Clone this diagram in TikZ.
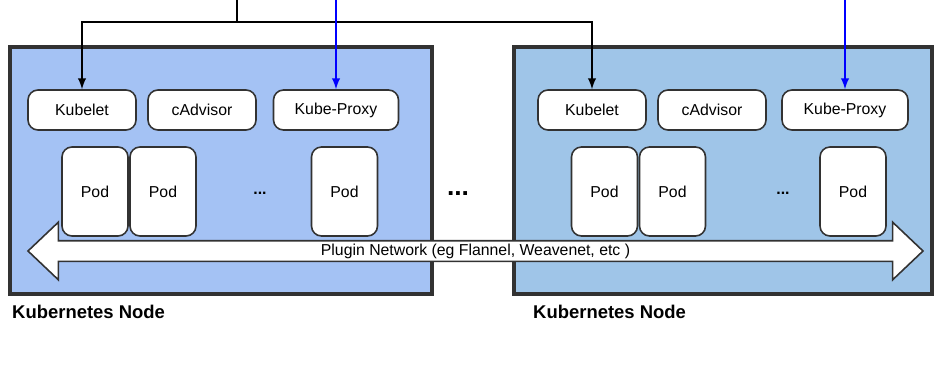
\documentclass[tikz,border=0pt]{standalone}
\usepackage{fontspec}
\setmainfont{Liberation Sans}
\usepackage{tikz}
\usetikzlibrary{shapes,shapes.arrows,positioning}
\usepackage{xcolor}
\definecolor{nodeblueA}{RGB}{164,194,244}
\definecolor{nodeblueB}{RGB}{159,197,232}
\definecolor{edgegray}{RGB}{50,50,50}

\begin{document}
\begin{tikzpicture}[scale=1.0]
    %styles
    \tikzstyle{knode}=[rectangle,draw=edgegray,line width=2.2pt]
    \tikzstyle{agent}=[rectangle,rounded corners=0.2cm,draw=edgegray,line width=0.9pt,fill=white,minimum height=0.8cm,font=\fontsize{9}{10}\selectfont]
    \tikzstyle{pod}=[rectangle,rounded corners=0.2cm,draw=edgegray,line width=0.9pt,fill=white,minimum width=1.32cm,minimum height=1.78cm,font=\fontsize{9}{10}\selectfont]
    \tikzstyle{knlabel}=[anchor=west,font=\fontsize{10.5}{12}\selectfont\bfseries]
    \tikzstyle{ctrl}=[->,>=latex,line width=1.1pt]
    \tikzstyle{proxy}=[->,>=latex,line width=1.1pt,blue]
    \useasboundingbox (0,0) rectangle (18.7,7.44);
    %node boxes
    \node[knode,fill=nodeblueA,minimum width=8.44cm,minimum height=4.94cm] (kn1) at (4.42,4.03) {};
    \node[knode,fill=nodeblueB,minimum width=8.36cm,minimum height=4.94cm] (kn2) at (14.46,4.03) {};
    %nodes
    \node[agent,minimum width=2.16cm] (kl1) at (1.64,5.24) {Kubelet};
    \node[agent,minimum width=2.16cm] (ca1) at (4.04,5.24) {cAdvisor};
    \node[agent,minimum width=2.5cm] (kp1) at (6.72,5.24) {Kube-Proxy};
    \node[agent,minimum width=2.16cm] (kl2) at (11.84,5.24) {Kubelet};
    \node[agent,minimum width=2.16cm] (ca2) at (14.24,5.24) {cAdvisor};
    \node[agent,minimum width=2.52cm] (kp2) at (16.9,5.24) {Kube-Proxy};
    \node[pod] (p11) at (1.9,3.61) {Pod};
    \node[pod] (p12) at (3.26,3.61) {Pod};
    \node[pod] (p13) at (6.89,3.61) {Pod};
    \node[pod] (p21) at (12.09,3.61) {Pod};
    \node[pod] (p22) at (13.45,3.61) {Pod};
    \node[pod] (p23) at (17.06,3.61) {Pod};
    \node[font=\fontsize{9}{10}\selectfont\bfseries] (more1) at (5.2,3.58) {...};
    \node[font=\fontsize{9}{10}\selectfont\bfseries] (more2) at (15.66,3.58) {...};
    \node[font=\fontsize{15}{16}\selectfont\bfseries] (morenodes) at (9.16,3.56) {...};
    \node[double arrow,draw=edgegray,line width=0.9pt,fill=white,minimum height=17.9cm,
          double arrow head extend=0.37cm,double arrow tip angle=87,inner ysep=0.03cm,
          text height=0.24cm,text depth=0.08cm,font=\fontsize{9}{10}\selectfont] (net) at (9.51,2.42)
          {Plugin Network (eg Flannel, Weavenet, etc )};
    \node[knlabel] (lab1) at (0.12,1.2) {Kubernetes Node};
    \node[knlabel] (lab2) at (10.54,1.2) {Kubernetes Node};
    \coordinate (master) at (4.74,7.44);
    \coordinate (split) at (4.74,7.0);
    \coordinate (svc1) at (6.72,7.44);
    \coordinate (svc2) at (16.9,7.44);

    %arrows
    \draw[line width=1.1pt] (master)--(split);
    \draw[ctrl] (split) -| (kl1.north);
    \draw[ctrl] (split) -| (kl2.north);
    \draw[proxy] (svc1)--(kp1.north);
    \draw[proxy] (svc2)--(kp2.north);

    \end{tikzpicture}
\end{document}
